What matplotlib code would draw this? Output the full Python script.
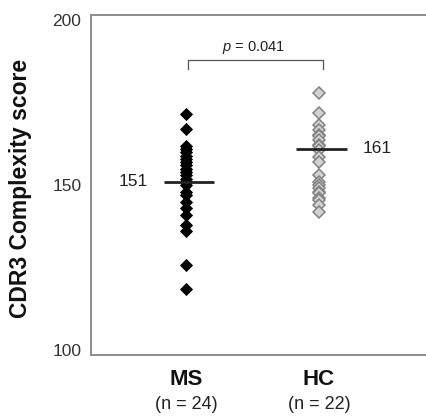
import numpy as np
import matplotlib
matplotlib.use("Agg")
import matplotlib.pyplot as plt

plt.rcParams['font.family'] = ['Liberation Sans', 'DejaVu Sans']
plt.rcParams['mathtext.fontset'] = 'custom'
plt.rcParams['mathtext.it'] = 'Liberation Sans:italic'
plt.rcParams['mathtext.rm'] = 'Liberation Sans'

# Datos
groups = ['MS', 'HC']
group_n = ['(n = 24)', '(n = 22)']
ms_scores = [171.7, 167.1, 162, 161, 160, 159, 158, 157, 156, 155, 154, 153,
             152, 151, 150, 148, 147, 145, 143, 141, 138, 136, 125.9, 118.6]
hc_scores = [178.0, 172.0, 168.3, 166.8, 165.3, 165.0, 163.8, 162.3, 162.0,
             160.8, 158.6, 157.1, 153.2, 151.1, 150.0, 149.2, 148.0, 147.7,
             146.0, 145.6, 144.1, 142.0]
means = [151, 161]
p_text = '$p$ = 0.041'
y_ticks = [100, 150, 200]

fig = plt.figure(figsize=(4.26, 4.2), dpi=100)
ax = fig.add_axes([0.2136, 0.155, 0.79, 0.81])

# Puntos
ax.plot(np.zeros(len(ms_scores)), ms_scores, linestyle='none', marker='D',
        ms=6.2, mfc='black', mec='black', mew=0.6)
ax.plot(np.ones(len(hc_scores)), hc_scores, linestyle='none', marker='D',
        ms=6.0, mfc='#d2d2d2', mec='#828282', mew=1.1)

# Lineas de media y etiquetas
for i, m in enumerate(means):
    ax.plot([i - 0.17, i + 0.21], [m, m], color='#222222', lw=2.0,
            solid_capstyle='butt', zorder=3)
ax.text(-0.29, means[0], str(means[0]), ha='right', va='center',
        fontsize=12.5, color='#222222')
ax.text(1 + 0.33, means[1], str(means[1]), ha='left', va='center',
        fontsize=12.5, color='#222222')

# Corchete de significancia
ax.plot([0.01, 0.01, 1.03, 1.03], [185.3, 188, 188, 185.3], color='#555555', lw=0.9)
ax.text(0.51, 189.3, p_text, ha='center', va='bottom', fontsize=10.5, color='#222222')

ax.set_xlim(-0.72, 1.82)
ax.set_ylim(98.6, 201.7)
ax.set_yticks(y_ticks)
ax.set_yticklabels([str(t) for t in y_ticks], fontsize=12.5, color='#333333')
ax.set_xticks([])
ax.tick_params(axis='y', length=0, pad=7)

for side in ['left', 'top', 'bottom']:
    ax.spines[side].set_color('#8c8c8c')
    ax.spines[side].set_linewidth(1.4)
ax.spines['right'].set_visible(False)

ax.set_ylabel('CDR3 Complexity score', fontsize=16.5, fontweight='bold', color='#111111')
ax.yaxis.set_label_coords(-0.175, 0.49)

# Etiquetas de grupo
trans = ax.get_xaxis_transform()
for i, (g, n) in enumerate(zip(groups, group_n)):
    ax.text(i, -0.073, g, transform=trans, ha='center', va='center',
            fontsize=16, fontweight='bold', color='#111111')
    ax.text(i, -0.145, n, transform=trans, ha='center', va='center',
            fontsize=13, color='#222222')

fig.savefig('out.png', dpi=100)
